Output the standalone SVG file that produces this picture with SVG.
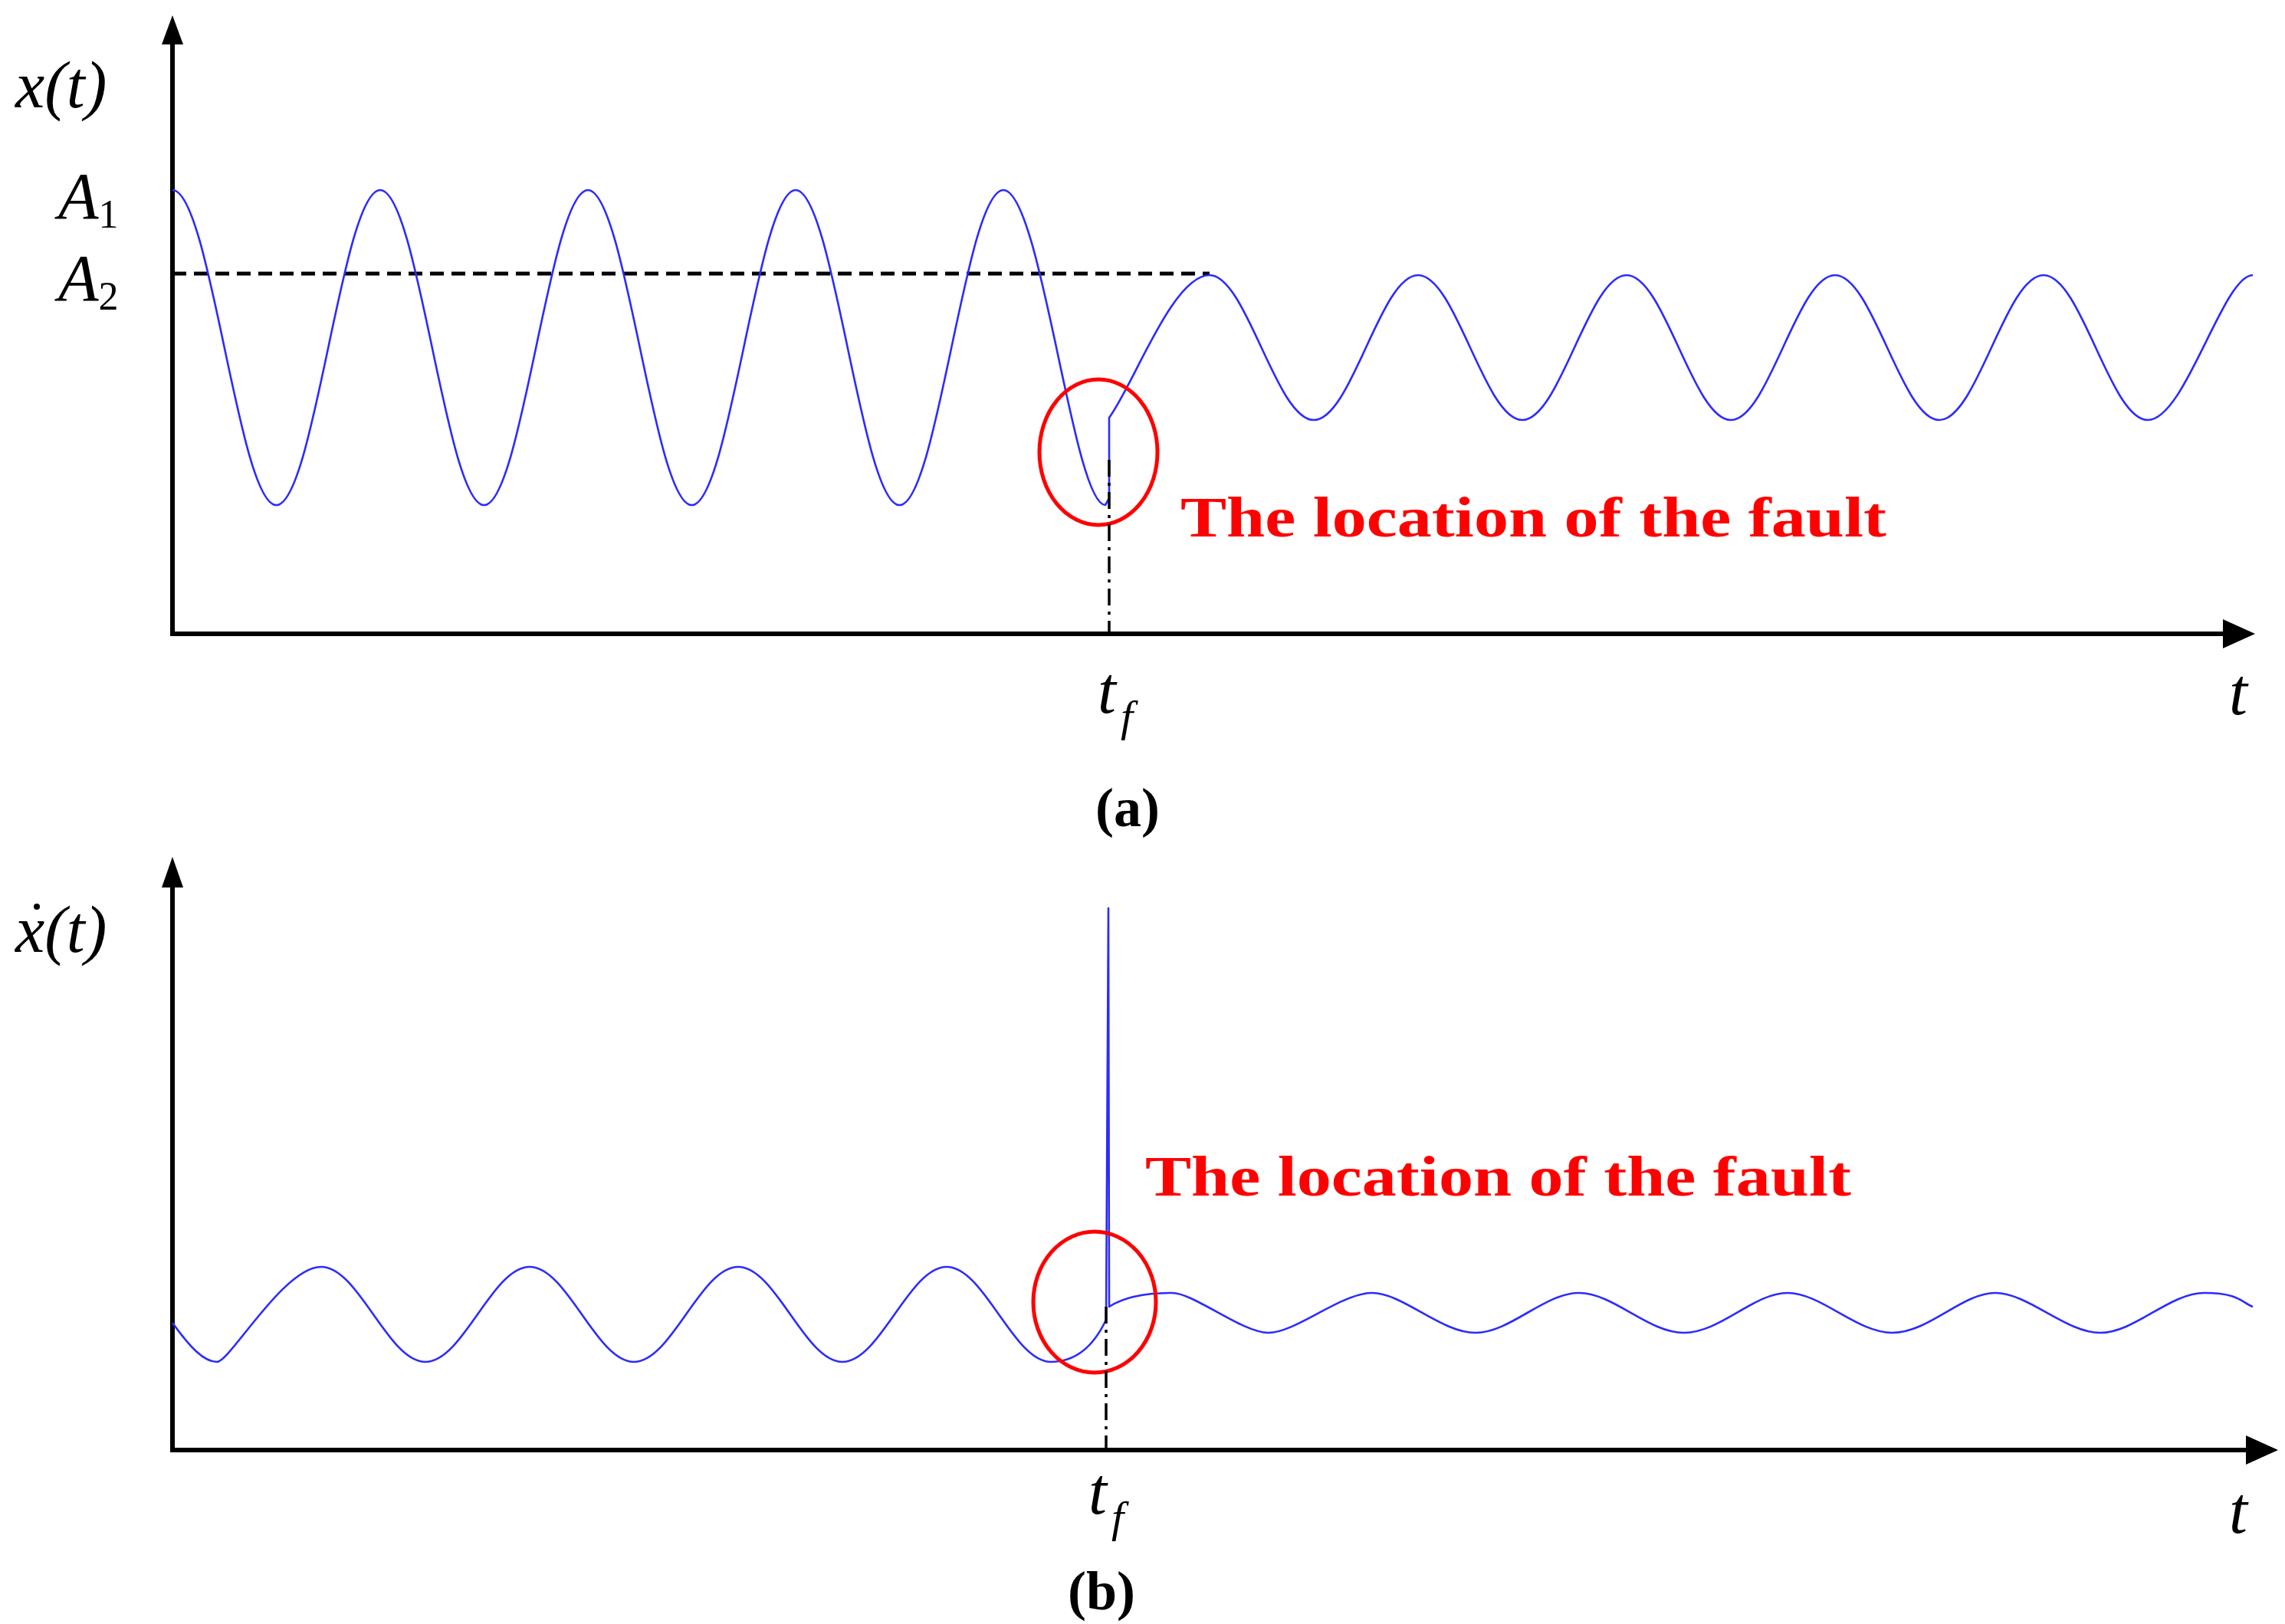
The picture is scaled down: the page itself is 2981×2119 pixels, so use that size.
<svg xmlns="http://www.w3.org/2000/svg" width="2981" height="2119" viewBox="0 0 2981 2119">
<style>
.ax{stroke:#000;stroke-width:6;fill:none}
.sig{stroke:#2b2bff;stroke-width:2.6;fill:none;stroke-linejoin:round}
.ell{stroke:#ff0000;stroke-width:5;fill:none}
.dd{stroke:#000;stroke-width:3.5;stroke-dasharray:22 8 4 8;fill:none}
.m{font-family:"Liberation Serif",serif;font-style:italic;font-size:86px;fill:#000}
.sub{font-style:normal;font-size:52px}
.lab{font-family:"Liberation Serif",serif;font-weight:bold;font-size:74px;fill:#ff0000}
.cap{font-family:"Liberation Serif",serif;font-weight:bold;font-size:72px;fill:#000}
</style>
<rect width="2981" height="2119" fill="#fff"/>
<g id="panel-a">
<path class="ax" d="M225,830 V40 M222,827 H2905"/>
<polygon points="225,20 211,58 239,58"/>
<polygon points="2942,827 2900,808 2900,846"/>
<path d="M225,357 H1578" stroke="#000" stroke-width="5" stroke-dasharray="18 10" fill="none"/>
<path class="sig" d="M225,248 C274,248 311.5,659 360.5,659 S447,248 496,248 S582.5,659 631.5,659 S718,248 767,248 S853.5,659 902.5,659 S989,248 1038,248 S1124.5,659 1173.5,659 S1260,248 1309,248 S1400,659 1442,659 L1447,650 L1447,545 C1480,500 1530,359 1578,359 S1665,548 1714,548 S1801,359 1850,359 S1937,548 1986,548 S2073,359 2122,359 S2209,548 2258,548 S2345,359 2394,359 S2481,548 2530,548 S2617,359 2666,359 S2753,548 2802,548 S2900,359 2939,359"/>
<ellipse class="ell" cx="1433" cy="590" rx="77" ry="95"/>
<path class="dd" d="M1447,600 V827"/>
<text class="m" x="20" y="140">x(t)</text>
<text class="m" x="76" y="285">A<tspan class="sub" dy="12">1</tspan></text>
<text class="m" x="76" y="392">A<tspan class="sub" dy="12">2</tspan></text>
<text class="m" x="1432" y="930">t<tspan font-size="58" dx="6" dy="24">f</tspan></text>
<text class="m" x="2908" y="932">t</text>
<text class="lab" x="1540" y="700" textLength="921" lengthAdjust="spacingAndGlyphs">The location of the fault</text>
<text class="cap" x="1471" y="1078" text-anchor="middle">(a)</text>
</g>
<g id="panel-b">
<path class="ax" d="M225,1895 V1140 M222,1892 H2935"/>
<polygon points="225,1118 211,1158 239,1158"/>
<polygon points="2972,1892 2930,1873 2930,1911"/>
<path class="sig" d="M225,1726 C248,1758 266,1777 283,1777 S370,1653 419,1653 S506,1777 555,1777 S642,1653 691,1653 S778,1777 827,1777 S914,1653 963,1653 S1050,1777 1099,1777 S1186,1653 1235,1653 S1322,1777 1371,1777 C1400,1777 1425,1760 1443,1722 L1446,1185 L1447,1705 C1470,1690 1500,1687 1529,1687 S1620,1739 1655,1739 S1750,1687 1790,1687 S1880,1739 1925,1739 S2015,1687 2060,1687 S2150,1739 2197,1739 S2288,1687 2332,1687 S2422,1739 2469,1739 S2560,1687 2603,1687 S2695,1739 2740,1739 S2830,1687 2876,1687 S2925,1700 2939,1705"/>
<ellipse class="ell" cx="1428" cy="1699" rx="80" ry="92"/>
<path class="dd" d="M1443,1705 V1892"/>
<text class="m" x="20" y="1242">x(t)</text>
<circle cx="48" cy="1183" r="4" fill="#000"/>
<text class="m" x="1420" y="1975">t<tspan font-size="58" dx="6" dy="24">f</tspan></text>
<text class="m" x="2908" y="2000">t</text>
<text class="lab" x="1494" y="1560" textLength="921" lengthAdjust="spacingAndGlyphs">The location of the fault</text>
<text class="cap" x="1437" y="2100" text-anchor="middle">(b)</text>
</g>
</svg>
